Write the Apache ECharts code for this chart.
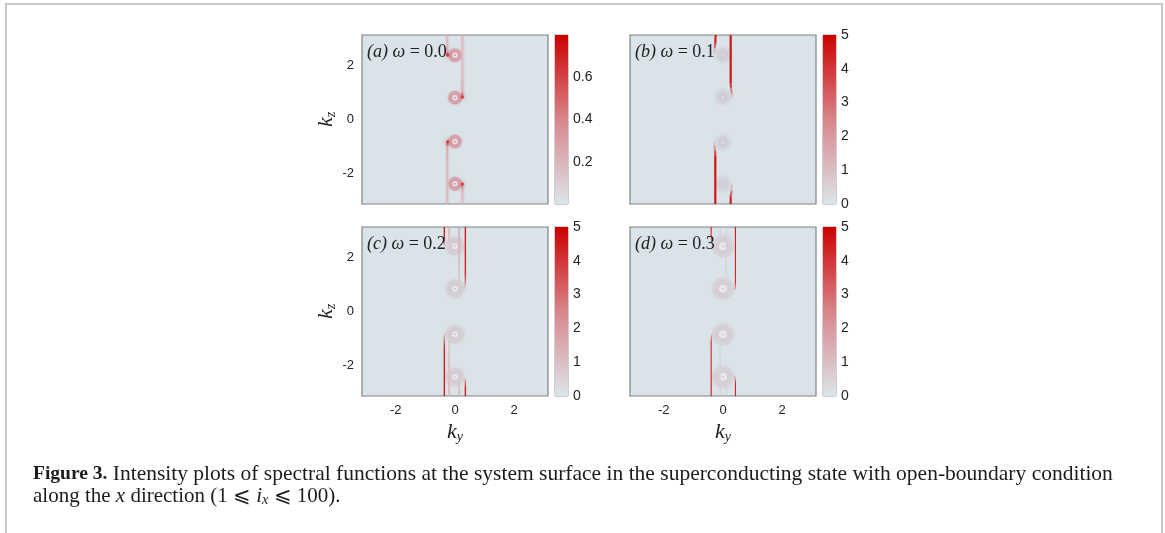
<!DOCTYPE html>
<html><head><meta charset="utf-8">
<style>html,body{margin:0;padding:0;background:#fff}#c{width:1165px;height:533px}</style>
<script src="https://cdn.jsdelivr.net/npm/echarts@6/dist/echarts.min.js"></script>
</head><body><div id="c"></div>
<script>
// ---- values: [ky, kz, intensity]
const tickValues = [-2, 0, 2];
const cbTicksA = [0.2, 0.4, 0.6];
const cbTicksB = [0, 1, 2, 3, 4, 5];
const cbMaxA = 0.8;
const cbMaxB = 5;
const nodesA = [[0,2.39],[0,0.81],[0,-0.82],[0,-2.39]];
const nodesB = [[0,2.4],[0,0.83],[0,-0.85],[0,-2.4]];
const nodesC = [[0,2.43],[0,0.85],[0,-0.85],[0,-2.43]];
const nodesD = [[0,2.43],[0,0.85],[0,-0.85],[0,-2.43]];
const arcsA = [
 [[-0.26,3.14,0.2],[-0.26,2.7,0.22],[-0.26,2.5,0.36],[-0.25,2.39,0.7]],
 [[0.25,3.14,0.2],[0.25,1.6,0.2],[0.25,1.0,0.3],[0.25,0.83,0.7]],
 [[-0.26,-3.14,0.2],[-0.26,-1.6,0.2],[-0.26,-1.0,0.3],[-0.25,-0.82,0.7]],
 [[0.25,-3.14,0.2],[0.25,-2.7,0.22],[0.25,-2.5,0.36],[0.25,-2.39,0.7]]
];
const arcsB = [
 [[-0.25,3.14,5],[-0.26,2.85,4.6],[-0.28,2.65,2],[-0.29,2.45,0.3]],
 [[0.26,3.14,5],[0.26,1.35,5],[0.27,1.15,3.2],[0.3,0.95,1.6],[0.3,0.8,0.3]],
 [[-0.26,-3.14,5],[-0.26,-1.35,5],[-0.27,-1.15,3],[-0.29,-0.95,1.2],[-0.29,-0.8,0.3]],
 [[0.26,-3.14,5],[0.26,-2.85,4.4],[0.29,-2.65,2],[0.3,-2.4,0.4]]
];
const arcsC = [
 [[-0.36,3.14,5],[-0.36,2.7,4.5],[-0.36,2.45,0.6]],
 [[0.35,3.14,5],[0.35,1.3,4.6],[0.35,1.0,1.6],[0.33,0.85,0.6]],
 [[-0.36,-3.14,5],[-0.36,-1.25,4.6],[-0.36,-0.95,1.6],[-0.34,-0.8,0.6]],
 [[0.35,-3.14,5],[0.35,-2.75,4.6],[0.35,-2.5,0.6]],
 [[-0.2,3.14,1.3],[-0.2,2.55,0.8]],
 [[0.14,3.14,1.5],[0.14,1.1,0.8]],
 [[-0.2,-3.14,1.2],[-0.2,-1.1,0.8]],
 [[0.14,-3.14,1.3],[0.14,-2.6,0.8]]
];
const arcsD = [
 [[-0.4,3.14,5],[-0.4,2.75,4.5],[-0.38,2.55,0.6]],
 [[0.42,3.14,5],[0.42,1.0,4.6],[0.4,0.8,0.6]],
 [[-0.4,-3.14,5],[-0.4,-1.1,4.6],[-0.38,-0.85,0.6]],
 [[0.42,-3.14,5],[0.42,-2.6,4.5],[0.4,-2.4,0.6]],
 [[-0.1,3.14,0.8],[-0.1,2.7,0.5]],
 [[0.11,3.14,0.8],[0.11,1.2,0.5]],
 [[-0.1,-3.14,0.8],[-0.1,-1.2,0.5]],
 [[0.11,-3.14,0.8],[0.11,-2.75,0.5]]
];
// ---- drawing configuration
const LOW=[219,229,233], HIGH=[204,0,0], MID=[216,134,140];
function ramp(t){t=Math.max(0,Math.min(1,t));
  const a=t<.5?LOW:MID,b=t<.5?MID:HIGH,u=t<.5?t*2:(t-.5)*2;
  return 'rgb('+a.map((x,i)=>Math.round(x+(b[i]-x)*u)).join(',')+')';}
const BG='#d9e3e8', EDGE='#7d8384', TXT='#222', SERIF='"Liberation Serif",serif', SANS='"Liberation Sans",Arial,sans-serif';
const P=[
 {tag:'a',w:'0.0',x:362,y:35,cb:555,arcs:arcsA,nodes:nodesA,max:cbMaxA,ticks:cbTicksA,lw:1.6,pale:1.6,halo:4,haloA:.35,disc:'205,70,85',discA:.45,ringA:.3,size:[17,12,7],spot:3,left:true,bottom:false},
 {tag:'b',w:'0.1',x:630,y:35,cb:823,arcs:arcsB,nodes:nodesB,max:cbMaxB,ticks:cbTicksB,lw:2.2,pale:2.6,halo:0,disc:'190,170,182',discA:.34,ringA:.18,size:[20,7,4],spot:0,left:false,bottom:false},
 {tag:'c',w:'0.2',x:362,y:227,cb:555,arcs:arcsC,nodes:nodesC,max:cbMaxB,ticks:cbTicksB,lw:1.4,pale:2,halo:0,disc:'205,160,172',discA:.34,ringA:.2,size:[23,17,12,7],spot:0,left:true,bottom:true},
 {tag:'d',w:'0.3',x:630,y:227,cb:823,arcs:arcsD,nodes:nodesD,max:cbMaxB,ticks:cbTicksB,lw:1.1,pale:1.2,halo:0,disc:'205,165,176',discA:.32,ringA:.2,size:[26,21,17,13,9],spot:0,left:false,bottom:true}
];
const W=186,H=169;
const grid=[],xAxis=[],yAxis=[],series=[],title=[];
function addAxis(arr,o){arr.push(o);return arr.length-1;}
function segGradient(a,b,p){
  const top=a[1]>=b[1]?a:b, bot=a[1]>=b[1]?b:a;
  return {type:'linear',x:0,y:0,x2:0,y2:1,colorStops:[{offset:0,color:ramp(top[2]/p.max)},{offset:1,color:ramp(bot[2]/p.max)}]};
}
P.forEach(p=>{
  const g=grid.length;
  grid.push({left:p.x,top:p.y,width:W,height:H,show:true,backgroundColor:BG,borderColor:EDGE,borderWidth:1.2,z:1});
  const base={type:'value',min:-Math.PI,max:Math.PI,gridIndex:g,splitLine:{show:false},
    axisLine:{show:false},
    axisTick:{show:true,inside:true,length:2,customValues:tickValues,lineStyle:{color:EDGE}}};
  const lab=s=>({show:s,customValues:tickValues,color:TXT,fontFamily:SANS,fontSize:13,margin:8,showMinLabel:true,showMaxLabel:true,formatter:v=>String(v)});
  const rich={k:{fontFamily:SERIF,fontStyle:'italic',fontSize:22,color:TXT},s:{fontFamily:SERIF,fontStyle:'italic',fontSize:14,color:TXT,verticalAlign:'bottom',padding:[10,0,0,0]}};
  const xi=addAxis(xAxis,{...base,position:'bottom',axisLabel:lab(p.bottom),
    name:p.bottom?'{k|k}{s|y}':'',nameLocation:'middle',nameGap:24,nameTextStyle:{rich}});
  addAxis(xAxis,{...base,position:'top',axisLabel:{show:false}});
  const yi=addAxis(yAxis,{...base,position:'left',axisLabel:lab(p.left),
    name:p.left?'{k|k}{s|z}':'',nameLocation:'middle',nameGap:22,nameRotate:90,nameTextStyle:{rich}});
  addAxis(yAxis,{...base,position:'right',axisLabel:{show:false}});
  const ctx={xAxisIndex:xi,yAxisIndex:yi,silent:true,animation:false};
  const c=p.disc;
  series.push({...ctx,type:'scatter',z:2,data:p.nodes,symbolSize:p.size[0],
    itemStyle:{opacity:1,color:{type:'radial',x:.5,y:.5,r:.5,colorStops:[{offset:0,color:`rgba(${c},${p.discA})`},{offset:.6,color:`rgba(${c},${p.discA*.8})`},{offset:1,color:`rgba(${c},0)`}]}}});
  p.size.slice(1).forEach(sz=>series.push({...ctx,type:'scatter',z:3,data:p.nodes,symbolSize:sz,
    itemStyle:{opacity:1,color:'rgba(0,0,0,0)',borderColor:`rgba(${c},${p.ringA})`,borderWidth:1}}));
  const inner=p.size[p.size.length-1];
  series.push({...ctx,type:'scatter',z:3,data:p.nodes,symbolSize:Math.max(3,inner-1),
    itemStyle:{opacity:1,color:'rgba(238,240,243,0.75)'}});
  series.push({...ctx,type:'scatter',z:3,data:p.nodes,symbolSize:1.6,itemStyle:{opacity:1,color:`rgba(${c},0.7)`}});
  // arcs, one line per segment so the intensity follows the colour bar
  p.arcs.forEach(arc=>{
    for(let i=0;i<arc.length-1;i++){
      const a=arc[i],b=arc[i+1];
      const seg=[[a[0],a[1]],[b[0],b[1]]];
      const col=segGradient(a,b,p);
      const low=Math.max(a[2],b[2])/p.max<0.4;
      if(p.halo) series.push({...ctx,type:'line',z:4,data:seg,showSymbol:false,lineStyle:{width:p.halo,color:col,opacity:p.haloA}});
      series.push({...ctx,type:'line',z:5,data:seg,showSymbol:false,lineStyle:{width:low?p.pale:p.lw,color:col,opacity:.9}});
    }
    if(p.spot){const e=arc[arc.length-1];
      series.push({...ctx,type:'scatter',z:6,data:[[e[0],e[1]]],symbolSize:p.spot,
        itemStyle:{opacity:.75,color:ramp(e[2]/p.max),shadowBlur:5,shadowColor:ramp(e[2]/p.max)}});}
  });
  // colour bar
  const cg=grid.length;
  grid.push({left:p.cb,top:p.y,width:13,height:H,show:true,backgroundColor:BG,borderColor:'#9aa0a3',borderWidth:1,z:1});
  const cx=addAxis(xAxis,{type:'category',gridIndex:cg,data:['v'],show:false});
  const cy=addAxis(yAxis,{type:'value',gridIndex:cg,min:0,max:p.max,position:'right',splitLine:{show:false},
    axisLine:{show:false},axisTick:{show:false},
    axisLabel:{show:true,customValues:p.ticks,color:TXT,fontFamily:SANS,fontSize:14,margin:5,formatter:v=>String(v)}});
  series.push({type:'bar',xAxisIndex:cx,yAxisIndex:cy,data:[p.max],barWidth:'100%',silent:true,animation:false,z:2,
    itemStyle:{color:{type:'linear',x:0,y:0,x2:0,y2:1,colorStops:[{offset:0,color:'rgb(204,0,0)'},{offset:.5,color:'rgb(216,134,140)'},{offset:1,color:'rgb(219,229,233)'}]}}});
  // panel tag
  title.push({left:p.x,top:p.y+3,z:20,text:'{i|('+p.tag+')} {i|ω} = '+p.w,
    textStyle:{fontFamily:SERIF,fontSize:18,fontWeight:'normal',color:TXT,rich:{i:{fontFamily:SERIF,fontStyle:'italic',fontSize:18,color:TXT}}}});
});
const capRich={b:{fontFamily:SERIF,fontWeight:'bold',fontSize:19.5,fill:'#1c1c1c'},
  i:{fontFamily:SERIF,fontStyle:'italic',fontSize:21,fill:'#1c1c1c'},
  s:{fontFamily:SERIF,fontStyle:'italic',fontSize:14,fill:'#1c1c1c',padding:[8,0,0,0]}};
const FR='#c9c9c9';
const graphic=[
 {type:'polyline',silent:true,shape:{points:[[6,533],[6,4],[1162,4],[1162,533]]},style:{stroke:FR,lineWidth:2,fill:null}},
 {type:'text',silent:true,left:33,top:463,style:{text:'{b|Figure 3.} Intensity plots of spectral functions at the system surface in the superconducting state with open-boundary condition',fontFamily:SERIF,fontSize:21.5,fill:'#1c1c1c',rich:capRich}},
 {type:'text',silent:true,left:33,top:486,style:{text:'along the {i|x} direction (1 ⩽ {i|i}{s|x} ⩽ 100).',fontFamily:SERIF,fontSize:21,fill:'#1c1c1c',rich:capRich}}
];
const chart=echarts.init(document.getElementById('c'),null,{renderer:'canvas'});
chart.setOption({animation:false,backgroundColor:'#fff',title,grid,xAxis,yAxis,series,graphic});
</script></body></html>
